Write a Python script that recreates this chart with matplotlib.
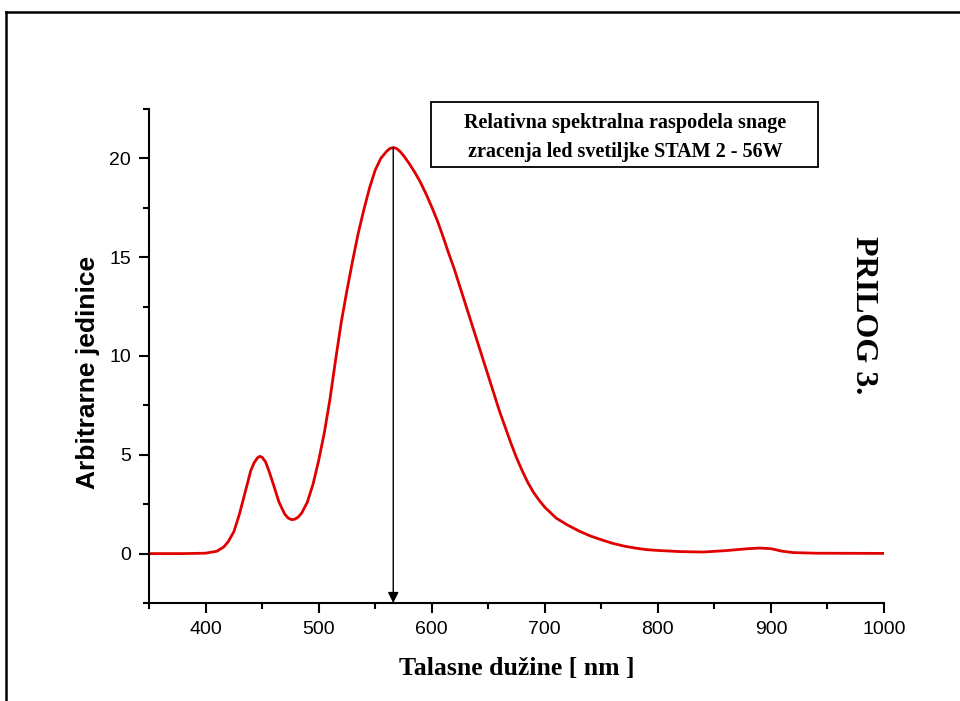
#!/usr/bin/env python3
"""Relative spectral power distribution of a LED luminaire (PRILOG 3)."""

import matplotlib
matplotlib.use("Agg")
import matplotlib.pyplot as plt
from matplotlib.lines import Line2D
from matplotlib.patches import Rectangle
from matplotlib.ticker import MultipleLocator

# wavelength [nm] and relative power
wavelength = [350, 380, 400, 410, 416, 420, 425, 430, 435, 440, 443, 446, 448,
              450, 453, 456, 460, 465, 470, 473, 476, 479, 482, 485, 490, 495,
              500, 505, 510, 515, 520, 525, 530, 535, 540, 545, 550, 555, 560,
              563, 566, 569, 572, 575, 580, 585, 590, 595, 600, 605, 610, 615,
              620, 625, 630, 635, 640, 645, 650, 655, 660, 665, 670, 675, 680,
              685, 690, 695, 700, 710, 720, 730, 740, 750, 760, 770, 780, 790,
              800, 820, 840, 860, 880, 890, 900, 910, 920, 940, 1000]
power = [0.0, 0.0, 0.02, 0.12, 0.33, 0.6, 1.1, 2.0, 3.1, 4.2, 4.6, 4.85, 4.92,
         4.88, 4.65, 4.2, 3.5, 2.6, 2.0, 1.8, 1.72, 1.74, 1.85, 2.05, 2.6, 3.5,
         4.7, 6.1, 7.8, 9.8, 11.7, 13.3, 14.8, 16.2, 17.4, 18.5, 19.4, 20.0,
         20.35, 20.5, 20.55, 20.5, 20.35, 20.15, 19.75, 19.3, 18.8, 18.2,
         17.55, 16.85, 16.05, 15.2, 14.4, 13.5, 12.6, 11.7, 10.8, 9.9, 9.0,
         8.1, 7.2, 6.4, 5.6, 4.85, 4.2, 3.6, 3.1, 2.7, 2.35, 1.8, 1.45, 1.15,
         0.9, 0.7, 0.52, 0.38, 0.28, 0.2, 0.16, 0.1, 0.08, 0.15, 0.25, 0.28,
         0.25, 0.12, 0.05, 0.02, 0.01]
peak_nm = 566
peak_val = 20.55

W, H = 960, 701
fig = plt.figure(figsize=(W / 100, H / 100), dpi=100)
ax = fig.add_axes([149 / W, 1 - 603 / H, (884 - 149) / W, (603 - 109) / H])

ax.plot(wavelength, power, color='#e00000', lw=2.0)

# arrow marking the peak
ax.annotate('', xy=(peak_nm, -2.5), xytext=(peak_nm, peak_val),
            arrowprops=dict(arrowstyle='-|>', color='black', lw=1.0,
                            mutation_scale=16, shrinkA=0, shrinkB=0))

ax.set_xlim(350, 1000)
ax.set_ylim(-2.5, 22.5)
ax.xaxis.set_major_locator(MultipleLocator(100))
ax.xaxis.set_minor_locator(MultipleLocator(50))
ax.yaxis.set_major_locator(MultipleLocator(5))
ax.yaxis.set_minor_locator(MultipleLocator(2.5))

for s in ['top', 'right']:
    ax.spines[s].set_visible(False)
for s in ['left', 'bottom']:
    ax.spines[s].set_linewidth(1.5)
ax.tick_params(which='major', direction='out', length=7, width=1.5,
               labelsize=14, pad=6)
ax.tick_params(which='minor', direction='out', length=4, width=1.5)
for lab in ax.get_xticklabels() + ax.get_yticklabels():
    lab.set_fontfamily('Liberation Sans')

fig.text(88 / W, 1 - 372 / H, 'Arbitrarne jedinice', rotation=90,
         ha='center', va='center', fontsize=19, weight='bold',
         family='Liberation Sans')
fig.text(517 / W, 1 - 668 / H, 'Talasne dužine [ nm ]', ha='center',
         va='center', fontsize=18.5, weight='bold', family='Liberation Serif')

# title box
fig.patches.append(Rectangle((431 / W, 1 - 167 / H), (818 - 431) / W,
                             (167 - 102) / H, transform=fig.transFigure,
                             fill=False, ec='black', lw=1.3))
fig.text(625 / W, 1 - 123 / H, 'Relativna spektralna raspodela snage',
         ha='center', va='center', fontsize=14.5, weight='bold',
         family='Liberation Serif')
fig.text(625 / W, 1 - 152 / H, 'zracenja led svetiljke STAM 2 - 56W',
         ha='center', va='center', fontsize=14.5, weight='bold',
         family='Liberation Serif')

fig.text(864 / W, 1 - 315 / H, 'PRILOG 3.', rotation=-90, ha='center',
         va='center', fontsize=23, weight='bold', family='Liberation Serif')

# page frame
fig.lines.append(Line2D([6 / W, 1.01], [1 - 12 / H, 1 - 12 / H],
                        transform=fig.transFigure, color='black', lw=1.8))
fig.lines.append(Line2D([6 / W, 6 / W], [1 - 12 / H, -0.01],
                        transform=fig.transFigure, color='black', lw=1.8))

fig.savefig('out.png', dpi=100)
plt.close(fig)
